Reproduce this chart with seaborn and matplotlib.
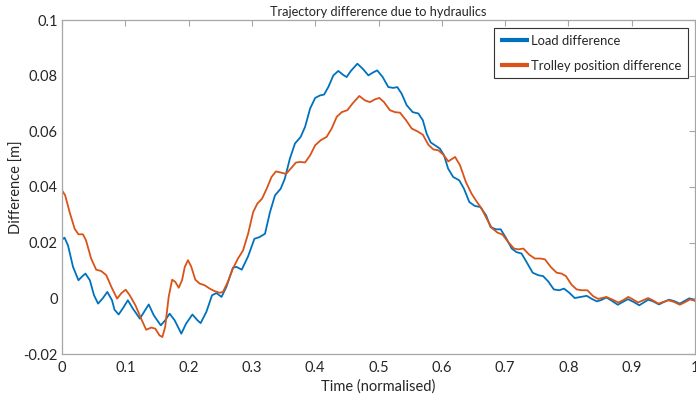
import numpy as np
import pandas as pd
import matplotlib
matplotlib.use("Agg")
import matplotlib.pyplot as plt
import seaborn as sns

# ---- data ----
load_t = [0.000, 0.004, 0.0095, 0.0174, 0.026, 0.031, 0.037, 0.044, 0.0506, 0.057,
          0.064, 0.0716, 0.079, 0.083, 0.0895, 0.097, 0.104, 0.112, 0.123, 0.1295,
          0.137, 0.145, 0.156, 0.163, 0.170, 0.178, 0.1885, 0.196, 0.206, 0.214,
          0.219, 0.228, 0.237, 0.244, 0.252, 0.2596, 0.270, 0.2755, 0.284, 0.294,
          0.304, 0.312, 0.3207, 0.3286, 0.3365, 0.3455, 0.352, 0.360, 0.368, 0.377,
          0.384, 0.392, 0.400, 0.4076, 0.414, 0.4207, 0.4287, 0.4365, 0.4434, 0.4497,
          0.456, 0.4666, 0.475, 0.484, 0.491, 0.498, 0.5066, 0.5155, 0.5234, 0.5297,
          0.5366, 0.5445, 0.554, 0.563, 0.570, 0.576, 0.5825, 0.591, 0.597, 0.6035,
          0.610, 0.618, 0.6276, 0.635, 0.6435, 0.652, 0.661, 0.670, 0.677, 0.6856,
          0.693, 0.7014, 0.7104, 0.718, 0.726, 0.734, 0.7436, 0.7525, 0.760, 0.768,
          0.777, 0.7856, 0.793, 0.8014, 0.810, 0.8194, 0.829, 0.837, 0.845, 0.852,
          0.860, 0.868, 0.878, 0.886, 0.894, 0.903, 0.912, 0.919, 0.926, 0.934,
          0.943, 0.951, 0.959, 0.967, 0.976, 0.983, 0.991, 0.996, 1.000]
load_v = [0.0211, 0.0218, 0.0190, 0.0113, 0.0065, 0.0077, 0.0089, 0.0065, 0.0011, -0.0019,
          -0.0001, 0.0023, -0.0007, -0.0041, -0.0058, -0.0033, -0.0007, -0.0037, -0.0073, -0.0049,
          -0.0022, -0.0061, -0.0097, -0.0079, -0.0055, -0.0079, -0.0127, -0.0091, -0.0058, -0.0079,
          -0.0089, -0.0049, 0.0011, 0.0019, 0.0005, 0.0041, 0.0110, 0.0113, 0.0103, 0.0151,
          0.0214, 0.0220, 0.0232, 0.0310, 0.0370, 0.0394, 0.0430, 0.0502, 0.0556, 0.0580,
          0.0616, 0.0682, 0.0720, 0.0729, 0.0732, 0.0759, 0.0801, 0.0817, 0.0804, 0.0795,
          0.0816, 0.0843, 0.0825, 0.0801, 0.0811, 0.0819, 0.0795, 0.0759, 0.0756, 0.0759,
          0.0735, 0.0694, 0.0669, 0.0664, 0.0640, 0.0592, 0.0560, 0.0547, 0.0538, 0.0514,
          0.0466, 0.0436, 0.0424, 0.0394, 0.0346, 0.0332, 0.0328, 0.0298, 0.0256, 0.0248,
          0.0248, 0.0217, 0.0179, 0.0166, 0.0161, 0.0130, 0.0092, 0.0083, 0.0080, 0.0061,
          0.0032, 0.0029, 0.0035, 0.0020, 0.0001, 0.0005, 0.0009, -0.0002, -0.0011, -0.0006,
          0.0003, -0.0008, -0.0023, -0.0013, -0.0003, -0.0013, -0.0025, -0.0015, -0.0005, -0.0011,
          -0.0022, -0.0013, -0.0005, -0.0010, -0.0019, -0.0010, 0.0000, -0.0004, -0.0009]

trolley_t = [0.000, 0.005, 0.012, 0.020, 0.026, 0.033, 0.038, 0.046, 0.054, 0.062,
             0.070, 0.078, 0.087, 0.094, 0.1006, 0.107, 0.116, 0.125, 0.133, 0.141,
             0.1475, 0.154, 0.1585, 0.163, 0.1685, 0.174, 0.179, 0.1844, 0.1896, 0.194,
             0.199, 0.204, 0.2106, 0.2175, 0.2254, 0.2333, 0.241, 0.249, 0.2543, 0.262,
             0.270, 0.278, 0.286, 0.294, 0.302, 0.3085, 0.316, 0.3234, 0.331, 0.338,
             0.3455, 0.354, 0.3613, 0.3697, 0.377, 0.384, 0.392, 0.400, 0.4087, 0.418,
             0.426, 0.434, 0.442, 0.4508, 0.459, 0.4697, 0.4787, 0.4866, 0.4945, 0.5013,
             0.5087, 0.518, 0.526, 0.534, 0.5435, 0.5525, 0.5614, 0.570, 0.5787, 0.5866,
             0.5945, 0.6024, 0.6103, 0.621, 0.6288, 0.638, 0.647, 0.655, 0.663, 0.671,
             0.679, 0.688, 0.696, 0.705, 0.714, 0.721, 0.7288, 0.738, 0.747, 0.756,
             0.763, 0.772, 0.7815, 0.789, 0.796, 0.805, 0.813, 0.821, 0.830, 0.839,
             0.847, 0.853, 0.860, 0.869, 0.879, 0.887, 0.8947, 0.902, 0.910, 0.918,
             0.926, 0.934, 0.942, 0.950, 0.958, 0.967, 0.976, 0.984, 0.992, 1.000]
trolley_v = [0.0388, 0.0370, 0.0310, 0.0250, 0.0230, 0.0230, 0.0208, 0.0143, 0.0103, 0.0098,
             0.0083, 0.0041, -0.0001, 0.0019, 0.0031, 0.0011, -0.0025, -0.0073, -0.0113, -0.0105,
             -0.0109, -0.0133, -0.0139, -0.0103, 0.0005, 0.0067, 0.0059, 0.0038, 0.0065, 0.0113,
             0.0137, 0.0115, 0.0067, 0.0053, 0.0047, 0.0035, 0.0026, 0.0020, 0.0023, 0.0059,
             0.0107, 0.0143, 0.0172, 0.0232, 0.0310, 0.0340, 0.0358, 0.0394, 0.0436, 0.0456,
             0.0452, 0.0447, 0.0466, 0.0488, 0.0490, 0.0488, 0.0514, 0.0550, 0.0568, 0.0580,
             0.0610, 0.0652, 0.0669, 0.0676, 0.0700, 0.0727, 0.0711, 0.0705, 0.0715, 0.0720,
             0.0705, 0.0676, 0.0669, 0.0667, 0.0640, 0.0610, 0.0600, 0.0588, 0.0552, 0.0535,
             0.0532, 0.0516, 0.0492, 0.0508, 0.0478, 0.0418, 0.0376, 0.0348, 0.0322, 0.0286,
             0.0253, 0.0236, 0.0229, 0.0202, 0.0179, 0.0176, 0.0179, 0.0157, 0.0143, 0.0143,
             0.0140, 0.0113, 0.0092, 0.0089, 0.0080, 0.0049, 0.0032, 0.0029, 0.0029, 0.0008,
             -0.0002, 0.0001, 0.0005, -0.0004, -0.0015, -0.0006, 0.0005, -0.0004, -0.0015, -0.0007,
             0.0001, -0.0008, -0.0019, -0.0013, -0.0007, -0.0013, -0.0023, -0.0014, -0.0004, -0.0008]

series_names = ["Load difference", "Trolley position difference"]
series_colors = ["#0072BD", "#D95319"]
x_ticks = [0, 0.1, 0.2, 0.3, 0.4, 0.5, 0.6, 0.7, 0.8, 0.9, 1]
x_tick_labels = ["0", "0.1", "0.2", "0.3", "0.4", "0.5", "0.6", "0.7", "0.8", "0.9", "1"]
y_ticks = [-0.02, 0, 0.02, 0.04, 0.06, 0.08, 0.1]
y_tick_labels = ["-0.02", "0", "0.02", "0.04", "0.06", "0.08", "0.1"]

df = pd.concat([
    pd.DataFrame({"t": load_t, "v": load_v, "series": series_names[0]}),
    pd.DataFrame({"t": trolley_t, "v": trolley_v, "series": series_names[1]}),
], ignore_index=True)

sns.set_style("white")
plt.rcParams["font.family"] = ["Lato", "DejaVu Sans"]

fig = plt.figure(figsize=(6.96, 3.96), dpi=100)
ax = fig.add_axes([62/696, 1 - 354/396, 633/696, 334/396])

sns.lineplot(data=df, x="t", y="v", hue="series", palette=series_colors,
             sort=False, estimator=None, linewidth=1.3, ax=ax,
             solid_joinstyle="round")

ax.set_xlim(0, 1)
ax.set_ylim(-0.02, 0.1)
ax.set_xticks(x_ticks)
ax.set_xticklabels(x_tick_labels)
ax.set_yticks(y_ticks)
ax.set_yticklabels(y_tick_labels)

axis_grey = "#A6A6A6"
for s in ax.spines.values():
    s.set_visible(True)
    s.set_color(axis_grey)
    s.set_linewidth(0.9)
ax.tick_params(direction="in", length=4, width=0.8, color=axis_grey,
               top=True, right=True, labelsize=10.5, labelcolor="#262626")
ax.tick_params(axis="x", pad=5)
ax.tick_params(axis="y", pad=3)

ax.set_title("Trajectory difference due to hydraulics", fontsize=9.2, color="#262626", pad=3)
ax.set_xlabel("Time (normalised)", fontsize=10.5, color="#262626", labelpad=3)
ax.set_ylabel("Difference [m]", fontsize=10.5, color="#262626", labelpad=0)

handles, labels = ax.get_legend_handles_labels()
leg = ax.legend(handles, labels, loc="upper right", bbox_to_anchor=(0.989, 0.976),
                borderaxespad=0, frameon=True, fancybox=False, framealpha=1,
                edgecolor="#333333", fontsize=9.4, handlelength=2.2,
                handletextpad=0.15, labelspacing=1.0, borderpad=0.5)
leg.get_frame().set_linewidth(0.8)
for line in leg.get_lines():
    line.set_linewidth(3)
    line.set_solid_capstyle("butt")

fig.savefig("out.png", dpi=100)
